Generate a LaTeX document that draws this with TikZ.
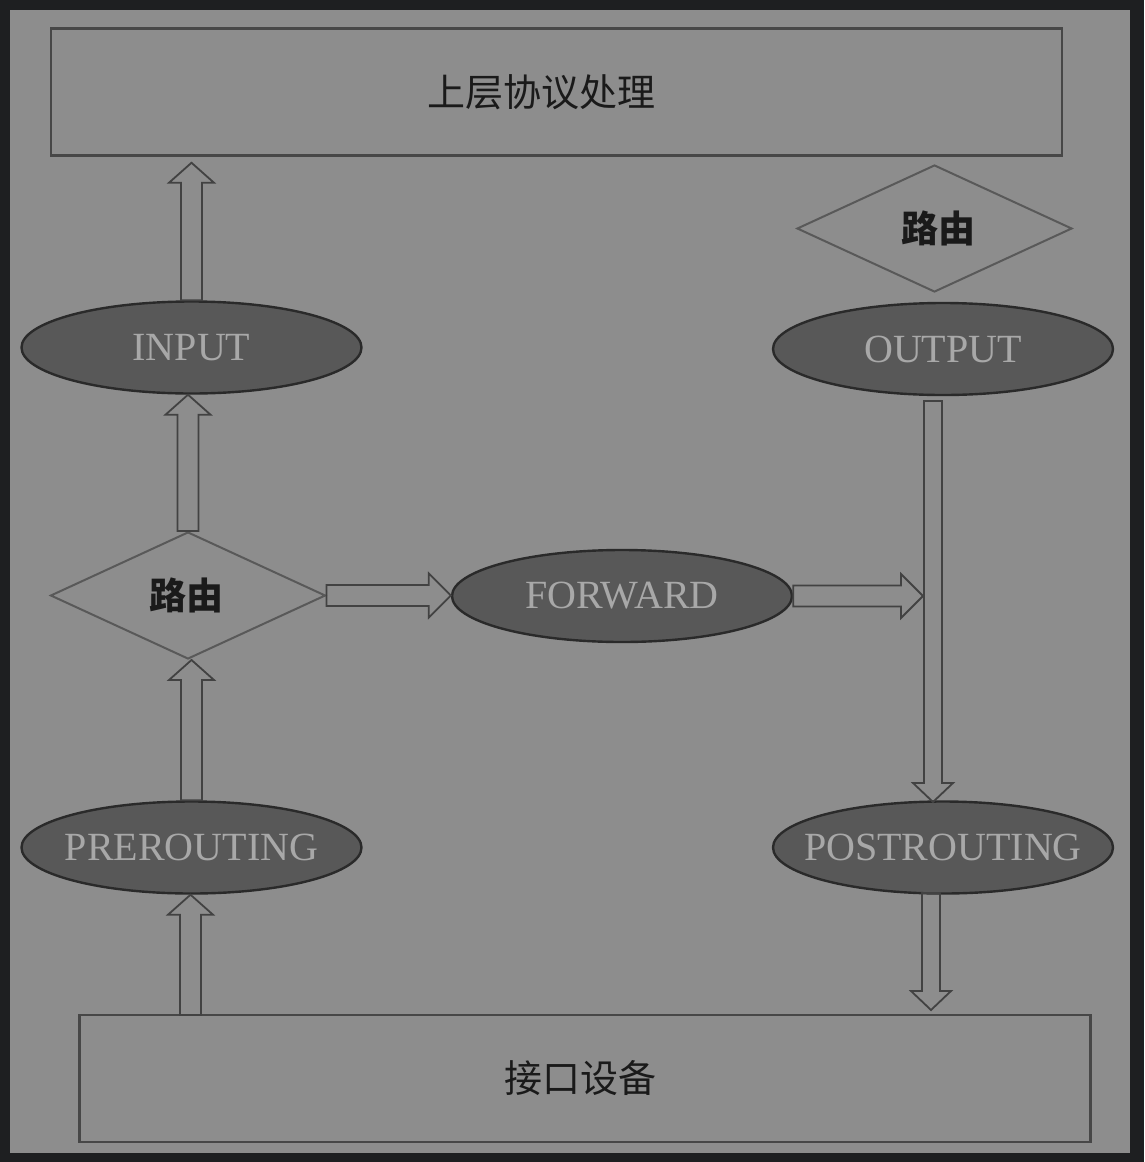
\documentclass[tikz,border=0pt]{standalone}
\usepackage{fontspec}
\setmainfont{Liberation Serif}
\newfontfamily\cjk{Noto Sans CJK SC}
\usetikzlibrary{shapes.geometric,calc}
\definecolor{outerbg}{HTML}{1E1F21}
\definecolor{panel}{HTML}{8D8D8D}
\definecolor{elpfill}{HTML}{585858}
\definecolor{elpline}{HTML}{2A2A2A}
\definecolor{elptext}{HTML}{A8A8A8}
\definecolor{boxline}{HTML}{474747}
\definecolor{arrline}{HTML}{424242}
\definecolor{cjktext}{HTML}{1A1A1A}
\tikzset{
  boxnode/.style={draw=boxline, line width=2.5pt, inner sep=0pt, font=\cjk\fontsize{38}{44}\selectfont, text=cjktext},
  elp/.style={ellipse, draw=elpline, line width=2.4pt, fill=elpfill, inner sep=0pt,
    minimum width=340pt, minimum height=92pt, text=elptext, font=\fontsize{40}{46}\selectfont},
  dia/.style={diamond, draw=boxline!90, line width=2pt, inner sep=0pt,
    minimum width=275pt, minimum height=127pt, text=cjktext, font=\cjk\bfseries\fontsize{37}{42}\selectfont},
  blk/.style={draw=arrline, line width=1.8pt, line join=miter}
}
\newcommand\uparr[2]{\draw[blk] let \p1=#1, \p2=#2 in
  (\x1-10.5pt,\y1) -- (\x1-10.5pt,\y2-20pt) -- (\x1-22.5pt,\y2-20pt) -- (\x1,\y2)
  -- (\x1+22.5pt,\y2-20pt) -- (\x1+10.5pt,\y2-20pt) -- (\x1+10.5pt,\y1) -- cycle;}
\newcommand\downarr[2]{\draw[blk] let \p1=#1, \p2=#2 in
  (\x1-9pt,\y1) -- (\x1-9pt,\y2+19pt) -- (\x1-20pt,\y2+19pt) -- (\x1,\y2)
  -- (\x1+20pt,\y2+19pt) -- (\x1+9pt,\y2+19pt) -- (\x1+9pt,\y1) -- cycle;}
\newcommand\rightarr[2]{\draw[blk] let \p1=#1, \p2=#2 in
  (\x1,\y1+10.5pt) -- (\x2-22pt,\y1+10.5pt) -- (\x2-22pt,\y1+22pt) -- (\x2,\y1)
  -- (\x2-22pt,\y1-22pt) -- (\x2-22pt,\y1-10.5pt) -- (\x1,\y1-10.5pt) -- cycle;}
\begin{document}
\begin{tikzpicture}[x=1pt,y=-1pt]
\useasboundingbox (0,0) rectangle (1144,1162);
\fill[outerbg] (0,0) rectangle (1144,1162);
\fill[panel] (10,10) rectangle (1130,1153);

% boxes
\node[boxnode, minimum width=1011pt, minimum height=127pt] (top) at (556.5,92) {\makebox[0pt]{\hspace*{-30pt}上层协议处理}};
\node[boxnode, minimum width=1011pt, minimum height=127pt] (bot) at (585,1078.5) {\makebox[0pt]{\hspace*{-10pt}接口设备}};

% ellipses
\node[elp] (inp) at (191.5,347.5) {\makebox[0pt]{INPUT}};
\node[elp] (pre) at (191.5,847.5) {\makebox[0pt]{PREROUTING}};
\node[elp] (fwd) at (622,596) {\makebox[0pt]{FORWARD}};
\node[elp] (out) at (943,349) {\makebox[0pt]{OUTPUT}};
\node[elp] (post) at (943,847.5) {\makebox[0pt]{POSTROUTING}};

% diamonds
\node[dia] (d1) at (188,595.5) {\makebox[0pt]{\hspace*{-4pt}路由}};
\node[dia] (d2) at (934.5,228.5) {\makebox[0pt]{\hspace*{8pt}路由}};

% free ends of the OUTPUT -> POSTROUTING line
\coordinate (vtop) at (933,401);
\coordinate (vbot) at (933,802);
\coordinate (join) at (923,593);
\coordinate (pstart) at (931,893);
\coordinate (pend) at (931,1010);

% arrows
\uparr{(190.5,1015)}{(pre.south)}
\uparr{(pre.north)}{(d1.south)}
\uparr{(d1.north)}{(inp.south)}
\uparr{(inp.north)}{([yshift=-6pt]inp.north |- top.south)}
\rightarr{(d1.east)}{(fwd.west)}
\rightarr{(fwd.east)}{(join)}
\downarr{(vtop)}{(vbot)}
\downarr{(pstart)}{(pend)}
\end{tikzpicture}
\end{document}
